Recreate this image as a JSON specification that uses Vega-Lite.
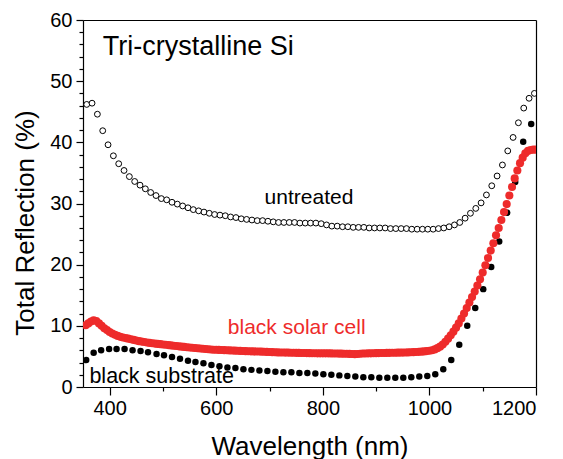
{
  "$schema": "https://vega.github.io/schema/vega-lite/v6.json",
  "width": 453,
  "height": 367,
  "autosize": {"type": "none"},
  "padding": {"left": 83, "top": 20, "right": 27, "bottom": 72},
  "background": "white",
  "config": {
    "view": {"stroke": null},
    "font": "Liberation Sans",
    "axis": {
      "grid": false,
      "ticks": true,
      "domainColor": "black",
      "domainWidth": 1.2,
      "tickColor": "black",
      "tickWidth": 1.2,
      "tickOpacity": 1,
      "labelColor": "black",
      "titleColor": "black",
      "labelFont": "Liberation Sans",
      "titleFont": "Liberation Sans",
      "labelFontSize": 20,
      "titleFontSize": 26,
      "titleFontWeight": "normal",
      "labelOverlap": false
    }
  },
  "resolve": {"scale": {"x": "shared", "y": "shared"}, "axis": {"x": "independent", "y": "independent"}},
  "datasets": {
    "untreated": [
      {"wl": 357, "r": 46.2}, {"wl": 367, "r": 46.4}, {"wl": 377, "r": 44.6}, {"wl": 387, "r": 41.9}, {"wl": 397, "r": 39.6},
      {"wl": 407, "r": 37.8}, {"wl": 417, "r": 36.5}, {"wl": 427, "r": 35.4}, {"wl": 437, "r": 34.4}, {"wl": 447, "r": 33.6},
      {"wl": 457, "r": 33.0}, {"wl": 467, "r": 32.4}, {"wl": 477, "r": 31.8}, {"wl": 487, "r": 31.3}, {"wl": 497, "r": 30.8},
      {"wl": 507, "r": 30.6}, {"wl": 517, "r": 30.2}, {"wl": 527, "r": 29.9}, {"wl": 537, "r": 29.6}, {"wl": 547, "r": 29.3},
      {"wl": 557, "r": 29.0}, {"wl": 567, "r": 28.8}, {"wl": 577, "r": 28.6}, {"wl": 587, "r": 28.4}, {"wl": 597, "r": 28.2},
      {"wl": 607, "r": 28.1}, {"wl": 617, "r": 28.0}, {"wl": 627, "r": 27.8}, {"wl": 637, "r": 27.7}, {"wl": 647, "r": 27.5},
      {"wl": 657, "r": 27.4}, {"wl": 667, "r": 27.3}, {"wl": 677, "r": 27.2}, {"wl": 687, "r": 27.2}, {"wl": 697, "r": 27.1},
      {"wl": 707, "r": 27.0}, {"wl": 717, "r": 26.9}, {"wl": 727, "r": 26.9}, {"wl": 737, "r": 26.9}, {"wl": 747, "r": 26.9},
      {"wl": 757, "r": 26.8}, {"wl": 767, "r": 26.8}, {"wl": 777, "r": 26.8}, {"wl": 787, "r": 26.8}, {"wl": 797, "r": 26.7},
      {"wl": 807, "r": 26.5}, {"wl": 817, "r": 26.3}, {"wl": 827, "r": 26.3}, {"wl": 837, "r": 26.2}, {"wl": 847, "r": 26.2},
      {"wl": 857, "r": 26.1}, {"wl": 867, "r": 26.1}, {"wl": 877, "r": 26.1}, {"wl": 887, "r": 26.0}, {"wl": 897, "r": 26.0},
      {"wl": 907, "r": 26.0}, {"wl": 917, "r": 26.0}, {"wl": 927, "r": 25.9}, {"wl": 937, "r": 25.9}, {"wl": 947, "r": 25.9},
      {"wl": 957, "r": 25.9}, {"wl": 967, "r": 25.8}, {"wl": 977, "r": 25.8}, {"wl": 987, "r": 25.8}, {"wl": 997, "r": 25.8},
      {"wl": 1007, "r": 25.8}, {"wl": 1017, "r": 25.9}, {"wl": 1027, "r": 26.0}, {"wl": 1037, "r": 26.2}, {"wl": 1047, "r": 26.5},
      {"wl": 1057, "r": 26.9}, {"wl": 1067, "r": 27.6}, {"wl": 1077, "r": 28.4}, {"wl": 1087, "r": 29.2}, {"wl": 1097, "r": 30.1},
      {"wl": 1107, "r": 31.4}, {"wl": 1117, "r": 32.9}, {"wl": 1127, "r": 34.5}, {"wl": 1137, "r": 36.3}, {"wl": 1147, "r": 38.6},
      {"wl": 1157, "r": 40.8}, {"wl": 1167, "r": 43.2}, {"wl": 1177, "r": 45.6}, {"wl": 1187, "r": 47.2}, {"wl": 1197, "r": 48.0}
    ],
    "substrate": [
      {"wl": 356, "r": 4.4}, {"wl": 370, "r": 5.6}, {"wl": 384, "r": 6.0}, {"wl": 399, "r": 6.2}, {"wl": 413, "r": 6.2},
      {"wl": 428, "r": 6.2}, {"wl": 443, "r": 6.0}, {"wl": 458, "r": 5.9}, {"wl": 472, "r": 5.7}, {"wl": 488, "r": 5.4},
      {"wl": 502, "r": 5.2}, {"wl": 517, "r": 4.9}, {"wl": 532, "r": 4.6}, {"wl": 547, "r": 4.3}, {"wl": 561, "r": 4.1},
      {"wl": 576, "r": 3.9}, {"wl": 591, "r": 3.6}, {"wl": 606, "r": 3.4}, {"wl": 621, "r": 3.2}, {"wl": 636, "r": 3.1},
      {"wl": 651, "r": 2.9}, {"wl": 666, "r": 2.8}, {"wl": 681, "r": 2.7}, {"wl": 696, "r": 2.6}, {"wl": 711, "r": 2.5},
      {"wl": 726, "r": 2.4}, {"wl": 741, "r": 2.4}, {"wl": 756, "r": 2.3}, {"wl": 771, "r": 2.3}, {"wl": 786, "r": 2.2},
      {"wl": 801, "r": 2.1}, {"wl": 816, "r": 2.0}, {"wl": 831, "r": 1.9}, {"wl": 846, "r": 1.8}, {"wl": 861, "r": 1.7},
      {"wl": 876, "r": 1.6}, {"wl": 891, "r": 1.6}, {"wl": 906, "r": 1.5}, {"wl": 921, "r": 1.5}, {"wl": 936, "r": 1.5},
      {"wl": 951, "r": 1.5}, {"wl": 966, "r": 1.6}, {"wl": 981, "r": 1.7}, {"wl": 996, "r": 1.8}, {"wl": 1011, "r": 2.1},
      {"wl": 1026, "r": 2.9}, {"wl": 1041, "r": 4.4}, {"wl": 1056, "r": 6.9}, {"wl": 1071, "r": 10.0}, {"wl": 1086, "r": 12.9},
      {"wl": 1101, "r": 16.0}, {"wl": 1116, "r": 19.6}, {"wl": 1131, "r": 23.8}, {"wl": 1146, "r": 28.5}, {"wl": 1161, "r": 33.5},
      {"wl": 1176, "r": 40.1}, {"wl": 1191, "r": 43.0}
    ],
    "cell": [
      {"wl": 355, "r": 10.1}, {"wl": 360, "r": 10.4}, {"wl": 365, "r": 10.7}, {"wl": 370, "r": 10.9}, {"wl": 375, "r": 10.8},
      {"wl": 380, "r": 10.4}, {"wl": 385, "r": 10.0}, {"wl": 390, "r": 9.6}, {"wl": 395, "r": 9.3}, {"wl": 400, "r": 9.0},
      {"wl": 405, "r": 8.75}, {"wl": 410, "r": 8.55}, {"wl": 415, "r": 8.35}, {"wl": 420, "r": 8.2}, {"wl": 425, "r": 8.1},
      {"wl": 430, "r": 8.0}, {"wl": 435, "r": 7.9}, {"wl": 440, "r": 7.8}, {"wl": 445, "r": 7.7}, {"wl": 450, "r": 7.6},
      {"wl": 455, "r": 7.5}, {"wl": 460, "r": 7.42}, {"wl": 465, "r": 7.35}, {"wl": 470, "r": 7.28}, {"wl": 475, "r": 7.21},
      {"wl": 480, "r": 7.15}, {"wl": 485, "r": 7.1}, {"wl": 490, "r": 7.05}, {"wl": 495, "r": 7.0}, {"wl": 500, "r": 6.95},
      {"wl": 505, "r": 6.9}, {"wl": 510, "r": 6.85}, {"wl": 515, "r": 6.8}, {"wl": 520, "r": 6.75}, {"wl": 525, "r": 6.7},
      {"wl": 530, "r": 6.65}, {"wl": 535, "r": 6.6}, {"wl": 540, "r": 6.55}, {"wl": 545, "r": 6.5}, {"wl": 550, "r": 6.46},
      {"wl": 555, "r": 6.42}, {"wl": 560, "r": 6.38}, {"wl": 565, "r": 6.34}, {"wl": 570, "r": 6.3}, {"wl": 575, "r": 6.26},
      {"wl": 580, "r": 6.22}, {"wl": 585, "r": 6.18}, {"wl": 590, "r": 6.14}, {"wl": 595, "r": 6.1}, {"wl": 600, "r": 6.08},
      {"wl": 605, "r": 6.06}, {"wl": 610, "r": 6.04}, {"wl": 615, "r": 6.02}, {"wl": 620, "r": 6.0}, {"wl": 625, "r": 5.98},
      {"wl": 630, "r": 5.96}, {"wl": 635, "r": 5.94}, {"wl": 640, "r": 5.92}, {"wl": 645, "r": 5.9}, {"wl": 650, "r": 5.88},
      {"wl": 655, "r": 5.86}, {"wl": 660, "r": 5.84}, {"wl": 665, "r": 5.83}, {"wl": 670, "r": 5.82}, {"wl": 675, "r": 5.81},
      {"wl": 680, "r": 5.8}, {"wl": 685, "r": 5.78}, {"wl": 690, "r": 5.76}, {"wl": 695, "r": 5.74}, {"wl": 700, "r": 5.72},
      {"wl": 705, "r": 5.7}, {"wl": 710, "r": 5.68}, {"wl": 715, "r": 5.66}, {"wl": 720, "r": 5.65}, {"wl": 725, "r": 5.64},
      {"wl": 730, "r": 5.63}, {"wl": 735, "r": 5.62}, {"wl": 740, "r": 5.6}, {"wl": 745, "r": 5.59}, {"wl": 750, "r": 5.58},
      {"wl": 755, "r": 5.57}, {"wl": 760, "r": 5.56}, {"wl": 765, "r": 5.55}, {"wl": 770, "r": 5.54}, {"wl": 775, "r": 5.53},
      {"wl": 780, "r": 5.52}, {"wl": 785, "r": 5.51}, {"wl": 790, "r": 5.5}, {"wl": 795, "r": 5.5}, {"wl": 800, "r": 5.5},
      {"wl": 805, "r": 5.5}, {"wl": 810, "r": 5.5}, {"wl": 815, "r": 5.49}, {"wl": 820, "r": 5.48}, {"wl": 825, "r": 5.47},
      {"wl": 830, "r": 5.46}, {"wl": 835, "r": 5.45}, {"wl": 840, "r": 5.44}, {"wl": 845, "r": 5.43}, {"wl": 850, "r": 5.41},
      {"wl": 855, "r": 5.39}, {"wl": 860, "r": 5.37}, {"wl": 865, "r": 5.4}, {"wl": 870, "r": 5.44}, {"wl": 875, "r": 5.47},
      {"wl": 880, "r": 5.48}, {"wl": 885, "r": 5.5}, {"wl": 890, "r": 5.5}, {"wl": 895, "r": 5.52}, {"wl": 900, "r": 5.53},
      {"wl": 905, "r": 5.54}, {"wl": 910, "r": 5.55}, {"wl": 915, "r": 5.56}, {"wl": 920, "r": 5.57}, {"wl": 925, "r": 5.58},
      {"wl": 930, "r": 5.59}, {"wl": 935, "r": 5.6}, {"wl": 940, "r": 5.61}, {"wl": 945, "r": 5.62}, {"wl": 950, "r": 5.63},
      {"wl": 955, "r": 5.64}, {"wl": 960, "r": 5.66}, {"wl": 965, "r": 5.68}, {"wl": 970, "r": 5.7}, {"wl": 975, "r": 5.72},
      {"wl": 980, "r": 5.75}, {"wl": 985, "r": 5.78}, {"wl": 990, "r": 5.82}, {"wl": 995, "r": 5.87}, {"wl": 1000, "r": 5.93},
      {"wl": 1005, "r": 6.0}, {"wl": 1010, "r": 6.15}, {"wl": 1015, "r": 6.35}, {"wl": 1020, "r": 6.6}, {"wl": 1025, "r": 6.95},
      {"wl": 1030, "r": 7.4}, {"wl": 1035, "r": 7.9}, {"wl": 1040, "r": 8.45}, {"wl": 1045, "r": 9.05}, {"wl": 1050, "r": 9.7},
      {"wl": 1055, "r": 10.4}, {"wl": 1060, "r": 11.2}, {"wl": 1065, "r": 12.0}, {"wl": 1070, "r": 12.9}, {"wl": 1075, "r": 13.8},
      {"wl": 1080, "r": 14.7}, {"wl": 1085, "r": 15.6}, {"wl": 1090, "r": 16.6}, {"wl": 1095, "r": 17.6}, {"wl": 1100, "r": 18.7},
      {"wl": 1105, "r": 19.9}, {"wl": 1110, "r": 21.1}, {"wl": 1115, "r": 22.3}, {"wl": 1120, "r": 23.5}, {"wl": 1125, "r": 24.8},
      {"wl": 1130, "r": 26.0}, {"wl": 1135, "r": 27.3}, {"wl": 1140, "r": 28.6}, {"wl": 1145, "r": 29.9}, {"wl": 1150, "r": 31.3},
      {"wl": 1155, "r": 32.7}, {"wl": 1160, "r": 34.1}, {"wl": 1165, "r": 35.4}, {"wl": 1170, "r": 36.6}, {"wl": 1175, "r": 37.5},
      {"wl": 1180, "r": 38.2}, {"wl": 1185, "r": 38.6}, {"wl": 1190, "r": 38.75}, {"wl": 1195, "r": 38.8}, {"wl": 1200, "r": 38.8}
    ]
  },
  "layer": [
    {
      "data": {"name": "untreated"},
      "mark": {"type": "circle", "size": 34, "fill": "white", "stroke": "black", "strokeWidth": 1, "opacity": 1, "clip": true},
      "encoding": {
        "x": {
          "field": "wl", "type": "quantitative",
          "scale": {"domain": [350, 1200], "nice": false, "zero": false},
          "axis": {
            "orient": "bottom",
            "title": "Wavelength (nm)",
            "values": [400, 600, 800, 1000, 1200],
            "format": "d",
            "ticks": true,
            "tickSize": 8,
            "labelPadding": 3,
            "labelOverlap": false,
            "titleX": 226.5,
            "titleY": 67,
            "titleAlign": "center",
            "titleBaseline": "alphabetic"
          }
        },
        "y": {
          "field": "r", "type": "quantitative",
          "scale": {"domain": [0, 60], "nice": false, "zero": false},
          "axis": {
            "orient": "left",
            "title": "Total Reflection (%)",
            "values": [0, 10, 20, 30, 40, 50, 60],
            "ticks": true,
            "tickSize": 7,
            "labelPadding": 4,
            "labelOverlap": false,
            "titleX": -50,
            "titleY": 202.5,
            "titleAngle": -90,
            "titleAlign": "center",
            "titleBaseline": "alphabetic"
          }
        }
      }
    },
    {
      "data": {"name": "substrate"},
      "mark": {"type": "circle", "size": 42, "color": "black", "opacity": 1, "clip": true},
      "encoding": {
        "x": {
          "field": "wl", "type": "quantitative",
          "scale": {"domain": [350, 1200], "nice": false, "zero": false},
          "axis": {"orient": "bottom", "title": null, "values": [500, 700, 900, 1100], "ticks": true, "tickSize": 4, "labels": false, "domain": false}
        },
        "y": {
          "field": "r", "type": "quantitative",
          "scale": {"domain": [0, 60], "nice": false, "zero": false},
          "axis": {"orient": "left", "title": null, "values": [2, 4, 6, 8, 12, 14, 16, 18, 22, 24, 26, 28, 32, 34, 36, 38, 42, 44, 46, 48, 52, 54, 56, 58], "ticks": true, "tickSize": 4, "labels": false, "domain": false}
        }
      }
    },
    {
      "data": {"name": "cell"},
      "mark": {"type": "circle", "size": 66, "color": "#ee2b2b", "opacity": 1, "clip": true},
      "encoding": {
        "x": {
          "field": "wl", "type": "quantitative",
          "scale": {"domain": [350, 1200], "nice": false, "zero": false},
          "axis": {"orient": "top", "title": null, "ticks": false, "labels": false, "domain": true}
        },
        "y": {
          "field": "r", "type": "quantitative",
          "scale": {"domain": [0, 60], "nice": false, "zero": false},
          "axis": {"orient": "right", "title": null, "ticks": false, "labels": false, "domain": true}
        }
      }
    },
    {
      "data": {"values": [{}]},
      "mark": {"type": "text", "text": "Tri-crystalline Si", "fontSize": 27, "align": "left", "baseline": "alphabetic", "color": "black"},
      "encoding": {
        "x": {"datum": 387, "type": "quantitative", "scale": {"domain": [350, 1200], "nice": false, "zero": false}, "axis": null},
        "y": {"datum": 54.3, "type": "quantitative", "scale": {"domain": [0, 60], "nice": false, "zero": false}, "axis": null}
      }
    },
    {
      "data": {"values": [{}]},
      "mark": {"type": "text", "text": "untreated", "fontSize": 21, "align": "center", "baseline": "alphabetic", "color": "black"},
      "encoding": {
        "x": {"datum": 774, "type": "quantitative", "scale": {"domain": [350, 1200], "nice": false, "zero": false}, "axis": null},
        "y": {"datum": 29.9, "type": "quantitative", "scale": {"domain": [0, 60], "nice": false, "zero": false}, "axis": null}
      }
    },
    {
      "data": {"values": [{}]},
      "mark": {"type": "text", "text": "black solar cell", "fontSize": 21, "align": "center", "baseline": "alphabetic", "color": "#ee2b2b"},
      "encoding": {
        "x": {"datum": 751, "type": "quantitative", "scale": {"domain": [350, 1200], "nice": false, "zero": false}, "axis": null},
        "y": {"datum": 8.66, "type": "quantitative", "scale": {"domain": [0, 60], "nice": false, "zero": false}, "axis": null}
      }
    },
    {
      "data": {"values": [{}]},
      "mark": {"type": "text", "text": "black substrate", "fontSize": 21.5, "align": "left", "baseline": "alphabetic", "color": "black"},
      "encoding": {
        "x": {"datum": 362, "type": "quantitative", "scale": {"domain": [350, 1200], "nice": false, "zero": false}, "axis": null},
        "y": {"datum": 0.65, "type": "quantitative", "scale": {"domain": [0, 60], "nice": false, "zero": false}, "axis": null}
      }
    }
  ]
}
